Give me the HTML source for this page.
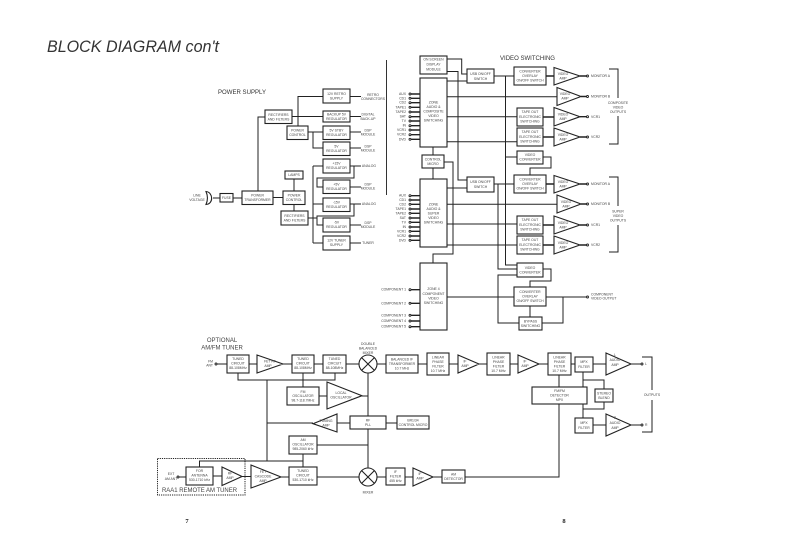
<!DOCTYPE html>
<html><head><meta charset="utf-8"><style>
html,body{margin:0;padding:0;background:#fff}
svg{display:block}
.w{fill:none;stroke:#222;stroke-width:1}
.s{fill:none;stroke:#222;stroke-width:1.4}
.b{fill:#fff;stroke:#222;stroke-width:1.1}
text{font-family:"Liberation Sans",sans-serif;font-size:3.4px;fill:#444;text-anchor:middle}
.r{text-anchor:end}.l{text-anchor:start}
.h{font-size:6px;fill:#333;text-anchor:start}
</style></head><body>
<svg width="793" height="537" viewBox="0 0 793 537" xmlns="http://www.w3.org/2000/svg">
<text x="47" y="52" textLength="172" lengthAdjust="spacingAndGlyphs" style="font-size:16.5px;font-style:italic;text-anchor:start;fill:#333">BLOCK DIAGRAM con't</text>
<text class="h" x="218" y="94" textLength="48" lengthAdjust="spacingAndGlyphs">POWER SUPPLY</text>
<text class="h" x="500" y="60" textLength="55" lengthAdjust="spacingAndGlyphs">VIDEO SWITCHING</text>
<text x="222" y="342" style="font-size:6px">OPTIONAL</text>
<text x="222" y="349.500" style="font-size:6px">AM/FM TUNER</text>
<text class="l" x="162" y="492" textLength="75" lengthAdjust="spacingAndGlyphs" style="font-size:6.200px">RAA1 REMOTE AM TUNER</text>
<text x="187" y="523" style="font-family:'Liberation Serif',serif;font-weight:bold;font-size:6.500px;fill:#222">7</text>
<text x="564" y="523" style="font-family:'Liberation Serif',serif;font-weight:bold;font-size:6.500px;fill:#222">8</text>
<path d="M386.500 60V195" style="fill:none;stroke:#333;stroke-width:1"/>

<!-- wires -->
<path class="w" d="M213 198H220M233 198H242M273 197.500H283M258 191V117H265M292 116.500H323M298 126V96.500H323M308 132H323M313 132V148H323M350 96.500H361M350 116.500H361M350 132H361M350 148H361M350 166H361M350 187H361M350 204H361M350 225H361M350 243H361M294 191V179M294 204V211M308 218H317M313 166V243M313 166H323M313 204H323M313 243H323M354 166V178H317V187H323M354 204V216H317V225H323"/>
<path class="w" d="M447 59H461.700V74H467M447 71.500H458V180H467M447 81H467M447 96.700H557M447 116.700H517M447 141.700H517M494 76H514M505.500 76V265H517M505.500 157H517M543 157H551V168H530V175M543 269H551V281H530V287M433 147V155M433 168V179M444 162H453V254H433V263M447 188H467M447 204.300H557M447 224H517M447 245H517M494 184H514M498 184V269H517M517 275H498V323H519M447 297H514M546 297H587M563 297V323H542M530 306V317"/>
<path class="s" d="M546 76H554M546 184H554M543 117H554M543 137H554M543 225H554M543 245H554M580 76H587M581 96.500H587M580 116.700H587M580 137H587M580 184H587M581 204H587M580 225H587M580 245H587"/>
<path class="w" d="M609 69H618V98M618 116V144H609M609 177H618V206M618 225V252H609"/>
<path class="s" d="M410 94H420M410 98.300H420M410 102.700H420M410 107.300H420M410 112H420M410 116.700H420M410 121H420M410 125.700H420M410 130H420M410 134.700H420M410 139.300H420M410 195.700H420M410 200H420M410 204.300H420M410 209H420M410 213.300H420M410 218H420M410 222.300H420M410 227H420M410 231.300H420M410 236H420M410 240.300H420M410 289.700H420M410 303.300H420M410 315.300H420M410 321H420M410 326.700H420"/>
<path class="w" d="M216 364H227M249 364H257M283 364H292M314 364H323M346 364H359M377 364H386M418 364H427M449 364H458M479 364H487M510 364H518M539 364H548M571 364H575M593 364H606M631 364H642M593 425H606M631 425H642M238 373V380H335V373M303 373V387M267 380V461M319 396H327M362 396H368M368 373V416M368 429V468M267 423H313M337 423H350M386 423H397M317 445H368M199.500 467V461H303M303 454V467M178 477H186M213 476H222M242 476.500H251M281 477H289M317 477H359M377 477H386M405 477H413M433 477H442M465 477H559V404M559 375V387M583 372V387M583 404V418M583 380H604V389M583 409H604V402"/>
<path class="w" d="M642 357H652V390M652 400V432H642"/>
<rect x="157.500" y="458.500" width="87.500" height="36.500" fill="none" stroke="#222" stroke-width="1" stroke-dasharray="1.200 1"/>

<!-- power supply -->
<g class="b">
<path d="M206 191.500C213 192 214 204 206 204.500C208 200 208 196 206 191.500Z"/>
<rect x="220" y="193.500" width="13" height="8.500"/><rect x="242" y="191" width="31" height="13.500"/><rect x="283" y="191" width="22" height="13.500"/><rect x="285" y="171" width="18" height="8"/><rect x="281" y="211" width="27" height="14"/><rect x="265" y="110" width="27" height="13.500"/><rect x="287" y="126" width="21" height="13.500"/>
<rect x="323" y="89" width="27" height="14"/><rect x="323" y="111" width="27" height="11"/><rect x="323" y="126" width="27" height="13.500"/><rect x="323" y="142" width="27" height="13.500"/><rect x="323" y="159" width="27" height="14"/><rect x="323" y="180" width="27" height="13.500"/><rect x="323" y="198" width="27" height="13.500"/><rect x="323" y="218" width="27" height="14"/><rect x="323" y="236" width="27" height="14"/>
</g>
<text x="197" y="196.500">LINE</text><text x="197" y="200.800">VOLTAGE</text>
<text x="226.500" y="199">FUSE</text>
<text x="257.500" y="196.500">POWER</text><text x="257.500" y="201">TRANSFORMER</text>
<text x="294" y="196.500">POWER</text><text x="294" y="201">CONTROL</text>
<text x="294" y="176.200">LAMPS</text>
<text x="294.500" y="217">RECTIFIERS</text><text x="294.500" y="221.500">AND FILTERS</text>
<text x="278.500" y="116">RECTIFIERS</text><text x="278.500" y="120.500">AND FILTERS</text>
<text x="297.500" y="131.500">POWER</text><text x="297.500" y="136">CONTROL</text>
<text x="336.500" y="95">12V RETRO</text><text x="336.500" y="99.500">SUPPLY</text>
<text x="336.500" y="115.500">BACKUP 5V</text><text x="336.500" y="119.800">REGULATOR</text>
<text x="336.500" y="131.500">5V STBY</text><text x="336.500" y="136">REGULATOR</text>
<text x="336.500" y="147.500">5V</text><text x="336.500" y="152">REGULATOR</text>
<text x="336.500" y="164.500">+15V</text><text x="336.500" y="169">REGULATOR</text>
<text x="336.500" y="185.500">+5V</text><text x="336.500" y="190">REGULATOR</text>
<text x="336.500" y="203.500">-15V</text><text x="336.500" y="208">REGULATOR</text>
<text x="336.500" y="223.500">-5V</text><text x="336.500" y="228">REGULATOR</text>
<text x="336.500" y="241.500">12V TUNER</text><text x="336.500" y="246">SUPPLY</text>
<text x="373" y="96">RETRO</text><text x="373" y="100">CONNECTORS</text>
<text x="368" y="115.500">DIGITAL</text><text x="368" y="119.800">BACK-UP</text>
<text x="368" y="131.500">DSP</text><text x="368" y="135.500">MODULE</text>
<text x="368" y="147.500">DSP</text><text x="368" y="151.500">MODULE</text>
<text x="369" y="167.200">ANALOG</text>
<text x="368" y="185.500">DSP</text><text x="368" y="189.500">MODULE</text>
<text x="369" y="205.200">ANALOG</text>
<text x="368" y="224">DSP</text><text x="368" y="228">MODULE</text>
<text x="368" y="244.200">TUNER</text>

<!-- video -->
<g class="b">
<rect x="420" y="56" width="27" height="18"/><rect x="420" y="78" width="27" height="69"/><rect x="422" y="155" width="22" height="13"/><rect x="420" y="179" width="27" height="68"/><rect x="420" y="263" width="27" height="67"/>
<rect x="467" y="69" width="27" height="14"/><rect x="467" y="177" width="27" height="15"/>
<rect x="514" y="67" width="32" height="18"/><rect x="514" y="175" width="32" height="18"/><rect x="514" y="287" width="32" height="19"/>
<rect x="517" y="108" width="26" height="18"/><rect x="517" y="128" width="26" height="18"/><rect x="517" y="151" width="26" height="13"/><rect x="517" y="216" width="26" height="18"/><rect x="517" y="236" width="26" height="18"/><rect x="517" y="263" width="26" height="14"/><rect x="519" y="317" width="23" height="13"/>
<path d="M554 67.500L580 76L554 85ZM557 87.500L581 96.500L557 105.500ZM554 107.500L580 116.700L554 126ZM554 128L580 137L554 146ZM554 175.500L580 184L554 193ZM557 195L581 204L557 213ZM554 216L580 225L554 234ZM554 236L580 245L554 254Z"/>
</g>
<g fill="#fff" stroke="#222" stroke-width=".9"><circle cx="410" cy="94" r="1"/><circle cx="410" cy="98.300" r="1"/><circle cx="410" cy="102.700" r="1"/><circle cx="410" cy="107.300" r="1"/><circle cx="410" cy="112" r="1"/><circle cx="410" cy="116.700" r="1"/><circle cx="410" cy="121" r="1"/><circle cx="410" cy="125.700" r="1"/><circle cx="410" cy="130" r="1"/><circle cx="410" cy="134.700" r="1"/><circle cx="410" cy="139.300" r="1"/><circle cx="410" cy="195.700" r="1"/><circle cx="410" cy="200" r="1"/><circle cx="410" cy="204.300" r="1"/><circle cx="410" cy="209" r="1"/><circle cx="410" cy="213.300" r="1"/><circle cx="410" cy="218" r="1"/><circle cx="410" cy="222.300" r="1"/><circle cx="410" cy="227" r="1"/><circle cx="410" cy="231.300" r="1"/><circle cx="410" cy="236" r="1"/><circle cx="410" cy="240.300" r="1"/><circle cx="410" cy="289.700" r="1"/><circle cx="410" cy="303.300" r="1"/><circle cx="410" cy="315.300" r="1"/><circle cx="410" cy="321" r="1"/><circle cx="410" cy="326.700" r="1"/>
<circle cx="587.500" cy="76" r="1"/><circle cx="587.500" cy="96.500" r="1"/><circle cx="587.500" cy="116.700" r="1"/><circle cx="587.500" cy="137" r="1"/><circle cx="587.500" cy="184" r="1"/><circle cx="587.500" cy="204" r="1"/><circle cx="587.500" cy="225" r="1"/><circle cx="587.500" cy="245" r="1"/><circle cx="587.500" cy="297" r="1"/>
<circle cx="216" cy="364" r="1"/><circle cx="178" cy="477" r="1"/><circle cx="642" cy="364" r="1"/><circle cx="642" cy="425" r="1"/></g>
<text class="r" x="406" y="95">AUX</text><text class="r" x="406" y="99.300">CD1</text><text class="r" x="406" y="103.700">CD2</text><text class="r" x="406" y="108.300">TAPE1</text><text class="r" x="406" y="113">TAPE2</text><text class="r" x="406" y="117.700">SAT</text><text class="r" x="406" y="122">TV</text><text class="r" x="406" y="126.700">IN</text><text class="r" x="406" y="131">VCR1</text><text class="r" x="406" y="135.700">VCR2</text><text class="r" x="406" y="140.300">DVD</text>
<text class="r" x="406" y="196.700">AUX</text><text class="r" x="406" y="201">CD1</text><text class="r" x="406" y="205.300">CD2</text><text class="r" x="406" y="210">TAPE1</text><text class="r" x="406" y="214.300">TAPE2</text><text class="r" x="406" y="219">SAT</text><text class="r" x="406" y="223.300">TV</text><text class="r" x="406" y="228">IN</text><text class="r" x="406" y="232.300">VCR1</text><text class="r" x="406" y="237">VCR2</text><text class="r" x="406" y="241.300">DVD</text>
<text class="r" x="406" y="290.700">COMPONENT 1</text><text class="r" x="406" y="304.300">COMPONENT 2</text><text class="r" x="406" y="316.300">COMPONENT 3</text><text class="r" x="406" y="322">COMPONENT 4</text><text class="r" x="406" y="327.700">COMPONENT 5</text>
<text x="433.500" y="60.500">ON SCREEN</text><text x="433.500" y="65.500">DISPLAY</text><text x="433.500" y="70.500">MODULE</text>
<text x="433.500" y="103.500">ZONE</text><text x="433.500" y="108">AUDIO &amp;</text><text x="433.500" y="112.500">COMPOSITE</text><text x="433.500" y="117">VIDEO</text><text x="433.500" y="121.500">SWITCHING</text>
<text x="433" y="160.500">CONTROL</text><text x="433" y="165">MICRO</text>
<text x="433.500" y="205.500">ZONE</text><text x="433.500" y="210">AUDIO &amp;</text><text x="433.500" y="214.500">SUPER</text><text x="433.500" y="219">VIDEO</text><text x="433.500" y="223.500">SWITCHING</text>
<text x="433.500" y="290">ZONE 4</text><text x="433.500" y="295">COMPONENT</text><text x="433.500" y="299.500">VIDEO</text><text x="433.500" y="304">SWITCHING</text>
<text x="480.500" y="75">USB ON/OFF</text><text x="480.500" y="80">SWITCH</text>
<text x="480.500" y="183">USB ON/OFF</text><text x="480.500" y="188">SWITCH</text>
<text x="530" y="72.500">CONVERTER</text><text x="530" y="77">OVERLAY</text><text x="530" y="81.500">ON/OFF SWITCH</text>
<text x="530" y="180.500">CONVERTER</text><text x="530" y="185">OVERLAY</text><text x="530" y="189.500">ON/OFF SWITCH</text>
<text x="530" y="293">CONVERTER</text><text x="530" y="297.500">OVERLAY</text><text x="530" y="302">ON/OFF SWITCH</text>
<text x="530" y="113">TAPE OUT</text><text x="530" y="118">ELECTRONIC</text><text x="530" y="122.500">SWITCHING</text>
<text x="530" y="133">TAPE OUT</text><text x="530" y="138">ELECTRONIC</text><text x="530" y="142.500">SWITCHING</text>
<text x="530" y="156">VIDEO</text><text x="530" y="160.500">CONVERTER</text>
<text x="530" y="221">TAPE OUT</text><text x="530" y="226">ELECTRONIC</text><text x="530" y="230.500">SWITCHING</text>
<text x="530" y="241">TAPE OUT</text><text x="530" y="246">ELECTRONIC</text><text x="530" y="250.500">SWITCHING</text>
<text x="530" y="269">VIDEO</text><text x="530" y="273.500">CONVERTER</text>
<text x="530.500" y="322.500">BYPASS</text><text x="530.500" y="327">SWITCHING</text>
<text x="563" y="75">VIDEO</text><text x="563" y="79.500">AMP</text><text x="565" y="95">VIDEO</text><text x="565" y="99.500">AMP</text><text x="563" y="115.500">VIDEO</text><text x="563" y="120">AMP</text><text x="563" y="136">VIDEO</text><text x="563" y="140.500">AMP</text>
<text x="563" y="183">VIDEO</text><text x="563" y="187.500">AMP</text><text x="566" y="203">VIDEO</text><text x="566" y="207.500">AMP</text><text x="563" y="224">VIDEO</text><text x="563" y="228.500">AMP</text><text x="563" y="244">VIDEO</text><text x="563" y="248.500">AMP</text>
<text class="l" x="591" y="77.200">MONITOR A</text><text class="l" x="591" y="97.700">MONITOR B</text><text class="l" x="591" y="118">VCR1</text><text class="l" x="591" y="138.200">VCR2</text>
<text class="l" x="591" y="185.200">MONITOR A</text><text class="l" x="591" y="205.200">MONITOR B</text><text class="l" x="591" y="226.200">VCR1</text><text class="l" x="591" y="246.200">VCR2</text>
<text class="l" x="591" y="295.300">COMPONENT</text><text class="l" x="591" y="299.700">VIDEO OUTPUT</text>
<text x="618" y="104">COMPOSITE</text><text x="618" y="108.500">VIDEO</text><text x="618" y="113">OUTPUTS</text>
<text x="618" y="212.500">SUPER</text><text x="618" y="217">VIDEO</text><text x="618" y="221.500">OUTPUTS</text>

<!-- tuner -->
<g class="b">
<rect x="227" y="355" width="22" height="18"/><rect x="292" y="355" width="22" height="18"/><rect x="323" y="355" width="23" height="18"/><rect x="386" y="355" width="32" height="18"/><rect x="427" y="353" width="22" height="22"/><rect x="487" y="353" width="23" height="22"/><rect x="548" y="353" width="23" height="22"/><rect x="575" y="357" width="18" height="15"/><rect x="532" y="387" width="55" height="17"/><rect x="595" y="389" width="18" height="13"/><rect x="575" y="418" width="18" height="15"/>
<rect x="287" y="387" width="32" height="18"/><rect x="350" y="416" width="36" height="13"/><rect x="397" y="416" width="32" height="13"/><rect x="289" y="436" width="28" height="18"/><rect x="289" y="467" width="28" height="18"/><rect x="186" y="467" width="27" height="18"/><rect x="386" y="468" width="19" height="17"/><rect x="442" y="470" width="23" height="13"/>
<path d="M257 355L283 364L257 373ZM458 355L479 364L458 373ZM518 355L539 364L518 373ZM606 353L631 364L606 375ZM606 414L631 425L606 436ZM327 382L362 395.700L327 409ZM313 423.700L337 414V432ZM251 465L281 477L251 488ZM222 467L242 476.500L222 485.500ZM413 468L433 477L413 486Z"/>
<circle cx="368" cy="364" r="9"/><circle cx="368" cy="477" r="9"/>
<path d="M361.600 357.600L374.400 370.400M374.400 357.600L361.600 370.400M361.600 470.600L374.400 483.400M374.400 470.600L361.600 483.400"/>
</g>
<text class="r" x="213" y="362.500">FM</text><text class="r" x="213" y="366.500">ANT</text>
<text x="238" y="360">TUNED</text><text x="238" y="364.500">CIRCUIT</text><text x="238" y="369">88-108MHz</text>
<text x="270" y="362.500">FET RF</text><text x="268" y="367">AMP</text>
<text x="303" y="360">TUNED</text><text x="303" y="364.500">CIRCUIT</text><text x="303" y="369">88-108MHz</text>
<text x="334.500" y="360">TUNED</text><text x="334.500" y="364.500">CIRCUIT</text><text x="334.500" y="369">88-108MHz</text>
<text x="368" y="345">DOUBLE</text><text x="368" y="349.500">BALANCED</text><text x="368" y="354">MIXER</text>
<text x="402" y="360.500">BALANCED IF</text><text x="402" y="365">TRANSFORMER</text><text x="402" y="369.500">10.7 MHz</text>
<text x="438" y="358.500">LINEAR</text><text x="438" y="363">PHASE</text><text x="438" y="367.500">FILTER</text><text x="438" y="372">10.7 MHz</text>
<text x="465" y="362.500">IF</text><text x="465" y="367">AMP</text>
<text x="498.500" y="358.500">LINEAR</text><text x="498.500" y="363">PHASE</text><text x="498.500" y="367.500">FILTER</text><text x="498.500" y="372">10.7 MHz</text>
<text x="525" y="362.500">IF</text><text x="525" y="367">AMP</text>
<text x="559.500" y="358.500">LINEAR</text><text x="559.500" y="363">PHASE</text><text x="559.500" y="367.500">FILTER</text><text x="559.500" y="372">10.7 MHz</text>
<text x="584" y="363">MPX</text><text x="584" y="368">FILTER</text>
<text x="615" y="356">L</text><text x="615" y="361">AUDIO</text><text x="615" y="366">AMP</text>
<text class="l" x="645" y="365.200">L</text>
<text x="615" y="419">R</text><text x="615" y="424">AUDIO</text><text x="615" y="429">AMP</text>
<text class="l" x="645" y="426.200">R</text>
<text x="652" y="396.200">OUTPUTS</text>
<text x="559.500" y="392">FM/FM</text><text x="559.500" y="396.500">DETECTOR</text><text x="559.500" y="401">MPX</text>
<text x="604" y="394.500">STEREO</text><text x="604" y="399">BLEND</text>
<text x="584" y="424">MPX</text><text x="584" y="429">FILTER</text>
<text x="303" y="393">FM</text><text x="303" y="397">OSCILLATOR</text><text x="303" y="401.500">98.7-118.7MHz</text>
<text x="341" y="394">LOCAL</text><text x="341" y="398.500">OSCILLATOR</text>
<text x="326" y="422">TUNING</text><text x="326" y="426.500">AMP</text>
<text x="368" y="421.500">RF</text><text x="368" y="426">PLL</text>
<text x="413" y="421.500">BR1/34</text><text x="413" y="426">CONTROL MICRO</text>
<text x="303" y="441">AM</text><text x="303" y="445.500">OSCILLATOR</text><text x="303" y="450">985-2060 kHz</text>
<text x="303" y="472">TUNED</text><text x="303" y="476.500">CIRCUIT</text><text x="303" y="481">530-1710 kHz</text>
<text x="199.500" y="472">FOR</text><text x="199.500" y="476.500">ANTENNA</text><text x="199.500" y="481">530-1710 kHz</text>
<text x="230" y="474.500">RF</text><text x="230" y="479">AMP</text>
<text x="263" y="473">FET</text><text x="263" y="477.500">CASCODE</text><text x="263" y="482">AMP</text>
<text x="171" y="475">EXT</text><text x="171" y="480">AM ANT</text>
<text x="395.500" y="473">IF</text><text x="395.500" y="477.500">FILTER</text><text x="395.500" y="482">455 kHz</text>
<text x="420" y="475">IF</text><text x="420" y="479.500">AMP</text>
<text x="453.500" y="475.500">AM</text><text x="453.500" y="480">DETECTOR</text>
<text x="368" y="493.500">MIXER</text>
</svg>
</body></html>
